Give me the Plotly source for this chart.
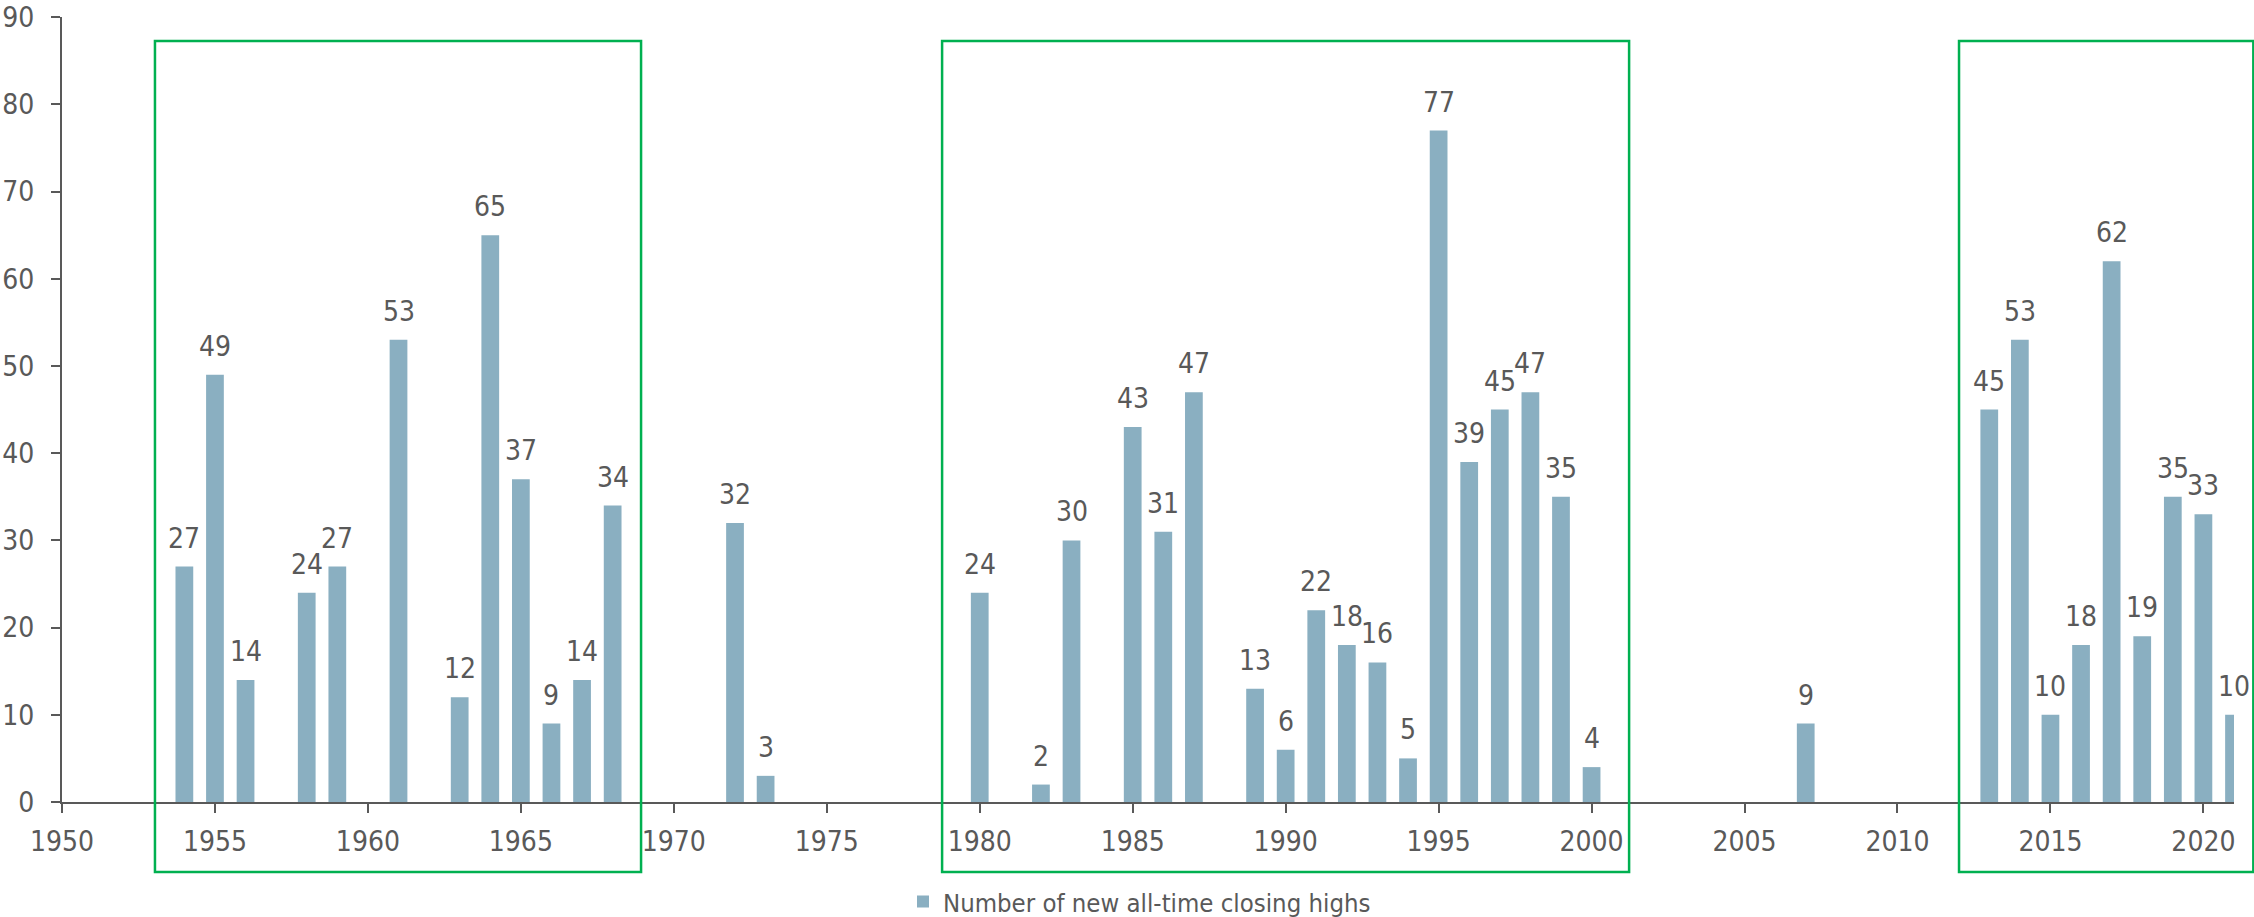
import plotly.graph_objects as go

# Years with new all-time closing highs and how many occurred that year
years = [1954, 1955, 1956, 1958, 1959, 1961, 1963, 1964, 1965, 1966, 1967, 1968,
         1972, 1973,
         1980, 1982, 1983, 1985, 1986, 1987, 1989, 1990, 1991, 1992, 1993, 1994,
         1995, 1996, 1997, 1998, 1999, 2000,
         2007,
         2013, 2014, 2015, 2016, 2017, 2018, 2019, 2020, 2021]
highs = [27, 49, 14, 24, 27, 53, 12, 65, 37, 9, 14, 34,
         32, 3,
         24, 2, 30, 43, 31, 47, 13, 6, 22, 18, 16, 5,
         77, 39, 45, 47, 35, 4,
         9,
         45, 53, 10, 18, 62, 19, 35, 33, 10]

series_name = "Number of new all-time closing highs"

FONT = "Liberation Sans Narrow, DejaVu Sans Condensed, Arial Narrow, sans-serif"
TEXT_COLOR = "#595959"
AXIS_COLOR = "#595959"
BAR_COLOR = "#8AAFC1"
BOX_COLOR = "#00B050"

fig = go.Figure()
fig.add_trace(go.Bar(
    x=years, y=highs, name=series_name,
    marker=dict(color=BAR_COLOR, line=dict(width=0)),
    width=0.58, showlegend=True,
))

# Value labels above each bar
for yr, v in zip(years, highs):
    fig.add_annotation(
        x=yr, y=v, xref="x", yref="y", text=str(v), showarrow=False,
        yanchor="bottom", xanchor="center", yshift=10,
        font=dict(family=FONT, size=28, color=TEXT_COLOR),
    )

# Green frames around the three bull-market stretches (paper coordinates)
frames = [(0.0428, 0.2666), (0.4052, 0.7215), (0.8734, 1.0089)]
for x0, x1 in frames:
    fig.add_shape(
        type="rect", xref="paper", yref="paper",
        x0=x0, x1=x1, y0=-0.0892, y1=0.9694,
        line=dict(color=BOX_COLOR, width=2.5), fillcolor="rgba(0,0,0,0)",
        layer="above",
    )

fig.update_layout(
    width=2254, height=917,
    margin=dict(l=62, r=20, t=17, b=115, autoexpand=False),
    paper_bgcolor="white", plot_bgcolor="white",
    font=dict(family=FONT, size=28, color=TEXT_COLOR),
    showlegend=True,
    legend=dict(
        orientation="h", x=0.3872, xanchor="left", y=-0.1274, yanchor="middle",
        font=dict(family=FONT, size=25.5, color=TEXT_COLOR),
        bgcolor="rgba(0,0,0,0)",
    ),
    xaxis=dict(
        range=[1950, 2021], tick0=1950, dtick=5, tickmode="linear",
        showline=True, linecolor=AXIS_COLOR, linewidth=2,
        ticks="outside", ticklen=9, tickwidth=2, tickcolor=AXIS_COLOR,
        showgrid=False, zeroline=False, automargin=False,
        tickfont=dict(family=FONT, size=28, color=TEXT_COLOR),
        ticklabelstandoff=4,
    ),
    yaxis=dict(
        range=[0, 90.02], tick0=0, dtick=10, tickmode="linear",
        showline=True, linecolor=AXIS_COLOR, linewidth=2,
        ticks="outside", ticklen=9, tickwidth=2, tickcolor=AXIS_COLOR,
        showgrid=False, zeroline=False, automargin=False,
        tickfont=dict(family=FONT, size=28, color=TEXT_COLOR),
        ticklabelstandoff=11,
    ),
)

fig.write_html("out.html")
